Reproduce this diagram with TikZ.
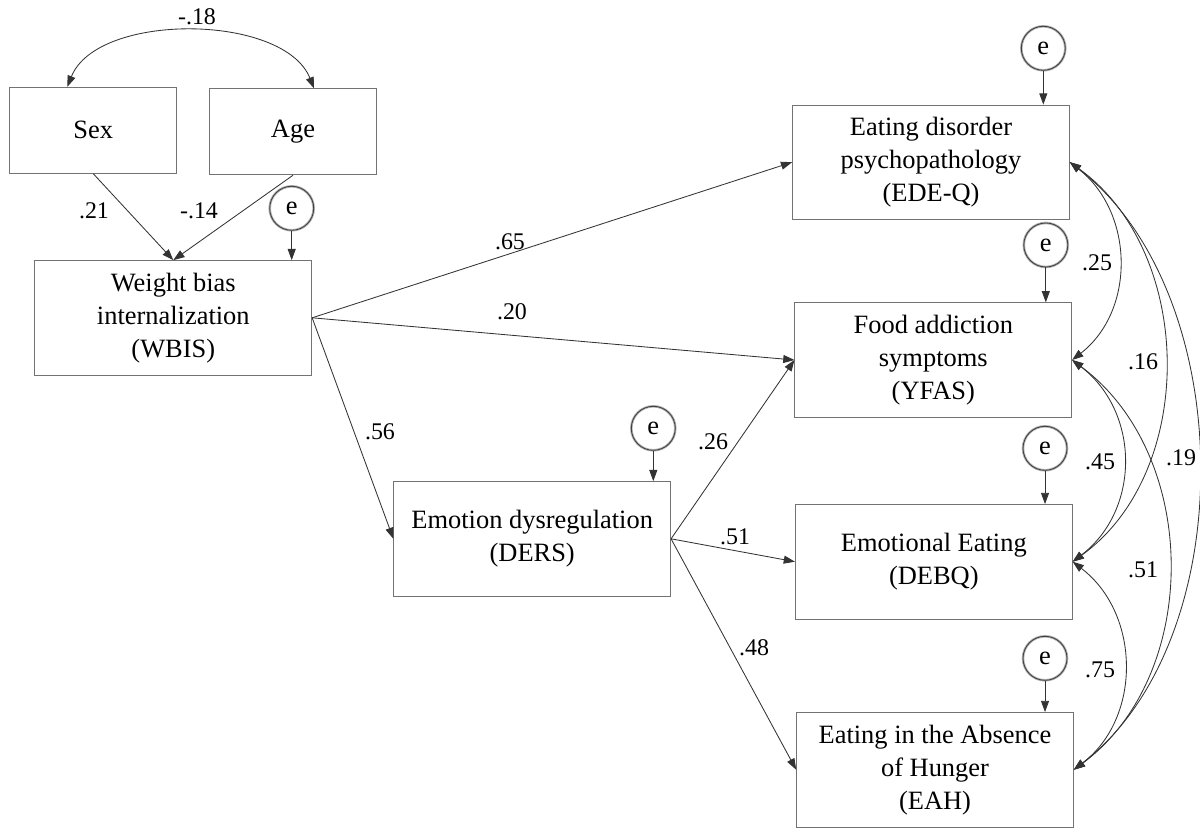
\documentclass[tikz,border=0pt]{standalone}
\usepackage{fontspec}
\setmainfont{Liberation Serif}
\usetikzlibrary{arrows.meta,calc}
\begin{document}
\begin{tikzpicture}[x=0.025cm,y=-0.025cm,
  box/.style={draw=black!55, line width=0.6pt, rectangle, align=center, inner sep=0pt,
    font=\fontsize{18.8}{23.5}\selectfont},
  smallbox/.style={box, minimum width=4.175cm, minimum height=2.15cm},
  bigbox/.style={box, minimum width=6.92cm, minimum height=2.86cm},
  ecirc/.style={circle, draw=black!75, line width=0.6pt,
    preaction={draw=black!30, line width=1.8pt},
    minimum size=1.1cm, inner sep=0pt, font=\fontsize{18.8}{23.5}\selectfont},
  tip/.tip={Triangle[length=2.8mm,width=2mm]},
  arr/.style={-tip, draw=black!80, line width=0.6pt},
  cov/.style={tip-tip, draw=black!80, line width=0.6pt},
  lab/.style={font=\fontsize{17}{20}\selectfont, inner sep=1pt}
]
\path[use as bounding box] (0,0) rectangle (1200,827);

% boxes
\node[smallbox] (sex) at (93.3,130.3) {Sex};
\node[smallbox] (age) at (293,131.8) {Age};
\node[bigbox] (wbis) at (173.3,317.8) {Weight bias\\internalization\\(WBIS)};
\node[bigbox] (ders) at (532.2,538.8) {Emotion dysregulation\\(DERS)};
\node[bigbox] (edeq) at (931,162.2) {Eating disorder\\psychopathology\\(EDE-Q)};
\node[bigbox] (yfas) at (933.3,360) {Food addiction\\symptoms\\(YFAS)};
\node[bigbox] (debq) at (933.8,561.7) {Emotional Eating\\(DEBQ)};
\node[bigbox] (eah) at (935,769.7) {Eating in the Absence\\of Hunger\\(EAH)};

% error terms
\node[ecirc] (ew) at (291.7,208.3) {e};
\node[ecirc] (ed) at (653.3,428.3) {e};
\node[ecirc] (e1) at (1043.3,48.3) {e};
\node[ecirc] (e2) at (1045.8,245) {e};
\node[ecirc] (e3) at (1045,448.3) {e};
\node[ecirc] (e4) at (1045,658.3) {e};

\draw[arr] (ew) -- (ew |- wbis.north);
\draw[arr] (ed) -- (ed |- ders.north);
\draw[arr] (e1) -- (e1 |- edeq.north);
\draw[arr] (e2) -- (e2 |- yfas.north);
\draw[arr] (e3) -- (e3 |- debq.north);
\draw[arr] (e4) -- (e4 |- eah.north);

% covariance Sex-Age
\draw[cov] ($(sex.north)+(-26,0)$) .. controls +(30,-75) and +(-30,-75) .. ($(age.north)+(21,0)$);
\node[lab] (l18) at (197,17) {-.18};

% paths
\draw[arr] (sex.south) -- (wbis.north);
\draw[arr] (age.south) -- (wbis.north);
\node[lab] (l21) at (94,211) {.21};
\node[lab] (l14) at (199,211) {-.14};

\draw[arr] (wbis.east) -- (edeq.west);
\draw[arr] (wbis.east) -- (yfas.west);
\draw[arr] (wbis.east) -- (ders.west);
\draw[arr] (ders.east) -- (yfas.west);
\draw[arr] (ders.east) -- (debq.west);
\draw[arr] (ders.east) -- (eah.west);

\node[lab] (l65) at (510,242) {.65};
\node[lab] (l20) at (512,312) {.20};
\node[lab] (l56) at (380,432) {.56};
\node[lab] (l26) at (713,442) {.26};
\node[lab] (l51a) at (735,537) {.51};
\node[lab] (l48) at (754,648) {.48};

% residual covariances
\draw[cov] (edeq.east) .. controls +(64,50) and +(64,-50) .. (yfas.east);
\draw[cov] (yfas.east) .. controls +(68,52) and +(68,-52) .. (debq.east);
\draw[cov] (debq.east) .. controls +(68,52) and +(68,-52) .. (eah.east);
\draw[cov] (edeq.east) .. controls +(125,90) and +(125,-90) .. (debq.east);
\draw[cov] (yfas.east) .. controls +(128,95) and +(128,-95) .. (eah.east);
\draw[cov] (edeq.east) .. controls +(169,130) and +(169,-130) .. (eah.east);

\node[lab] (l25) at (1097,263) {.25};
\node[lab] (l16) at (1143,362) {.16};
\node[lab] (l45) at (1100,462) {.45};
\node[lab] (l19) at (1181,458) {.19};
\node[lab] (l51b) at (1143,570) {.51};
\node[lab] (l75) at (1100,670) {.75};
\end{tikzpicture}
\end{document}
